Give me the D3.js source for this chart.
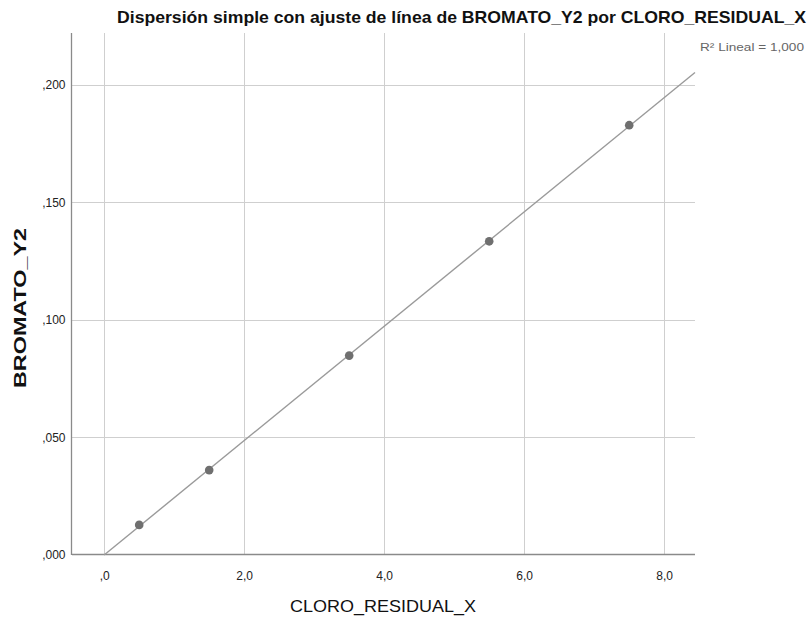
<!DOCTYPE html>
<html><head><meta charset="utf-8">
<script src="https://cdn.jsdelivr.net/npm/d3@7"></script>
<style>body{margin:0;background:#fff}svg{display:block}</style>
</head><body>
<svg id="c" width="808" height="621"></svg>
<script>
const xValues = [0.5, 1.5, 3.5, 5.5, 7.5];
const yValues = [0.0128, 0.0361, 0.0848, 0.1334, 0.1828];
const xTicks = [0, 2, 4, 6, 8];
const yTicks = [0, 0.05, 0.10, 0.15, 0.20];
const titleText = "Dispersión simple con ajuste de línea de BROMATO_Y2 por CLORO_RESIDUAL_X";
const xLabel = "CLORO_RESIDUAL_X";
const yLabel = "BROMATO_Y2";
const r2Text = "R² Lineal = 1,000";

const svg = d3.select("#c");
const L = 72, R = 695, T = 33, B = 555;
const x = d3.scaleLinear().domain([-0.46, 8.44]).range([L, R]);
const y = d3.scaleLinear().domain([0, 0.222]).range([B, T]);
const font = "'Liberation Sans', Arial, sans-serif";
const narrow = "'Liberation Sans Narrow', 'Arial Narrow', 'Liberation Sans', Arial, sans-serif";
const loc = d3.formatLocale({decimal: ",", thousands: ".", grouping: [3], currency: ["", ""]});
const fx = v => { const s = loc.format(".1f")(v); return s.startsWith("0,") ? s.slice(1) : s; };
const fy = v => { const s = loc.format(".3f")(v); return s.startsWith("0,") ? s.slice(1) : s; };

// gridlines
svg.append("g").selectAll("line").data(xTicks).join("line")
  .attr("x1", d => Math.round(x(d)) + 0.5).attr("x2", d => Math.round(x(d)) + 0.5)
  .attr("y1", T).attr("y2", B).attr("stroke", "#cfcfcf").attr("stroke-width", 1);
svg.append("g").selectAll("line").data(yTicks.filter(d => d > 0)).join("line")
  .attr("y1", d => Math.round(y(d)) + 0.5).attr("y2", d => Math.round(y(d)) + 0.5)
  .attr("x1", L).attr("x2", R).attr("stroke", "#cfcfcf").attr("stroke-width", 1);

// axes
const xAxis = svg.append("g").attr("transform", `translate(0,${B - 0.5})`)
  .call(d3.axisBottom(x).tickValues(xTicks).tickFormat(fx).tickSize(0).tickPadding(17));
const yAxis = svg.append("g").attr("transform", `translate(${L - 0.5},0)`)
  .call(d3.axisLeft(y).tickValues(yTicks).tickFormat(fy).tickSize(0).tickPadding(6));
[xAxis, yAxis].forEach(g => {
  g.select(".domain").attr("stroke", "#8a8a8a").attr("stroke-width", 1.3);
  g.selectAll("text").attr("font-family", narrow).attr("font-size", 12).attr("fill", "#222");
});
xAxis.select(".domain").attr("d", `M${L},0H${R}`);
yAxis.select(".domain").attr("d", `M0,${T}V${B}`);

// regression line (least squares on data)
const mx = d3.mean(xValues), my = d3.mean(yValues);
const slope = d3.sum(xValues.map((v, i) => (v - mx) * (yValues[i] - my))) / d3.sum(xValues.map(v => (v - mx) ** 2));
const icpt = my - slope * mx;
const x0 = Math.max(x.domain()[0], -icpt / slope), x1 = x.domain()[1];
svg.append("line")
  .attr("x1", x(x0)).attr("y1", y(icpt + slope * x0))
  .attr("x2", x(x1)).attr("y2", y(icpt + slope * x1))
  .attr("stroke", "#9a9a9a").attr("stroke-width", 1.4);

// points
svg.append("g").selectAll("circle").data(xValues).join("circle")
  .attr("cx", d => x(d)).attr("cy", (d, i) => y(yValues[i])).attr("r", 4.3)
  .attr("fill", "#6f6f6f");

// title
svg.append("text").attr("x", 806).attr("y", 23).attr("text-anchor", "end")
  .attr("font-family", narrow).attr("font-size", 17).attr("font-weight", "bold").attr("fill", "#111")
  .attr("textLength", 689).attr("lengthAdjust", "spacingAndGlyphs").text(titleText);

// R2 label
svg.append("text").attr("x", 804).attr("y", 51).attr("text-anchor", "end")
  .attr("font-family", narrow).attr("font-size", 11).attr("fill", "#666")
  .attr("textLength", 104).attr("lengthAdjust", "spacingAndGlyphs").text(r2Text);

// axis titles
svg.append("text").attr("x", 383).attr("y", 612).attr("text-anchor", "middle")
  .attr("font-family", narrow).attr("font-size", 17).attr("fill", "#111")
  .attr("textLength", 186).attr("lengthAdjust", "spacingAndGlyphs").text(xLabel);
svg.append("text").attr("transform", "translate(26,308) rotate(-90)").attr("text-anchor", "middle")
  .attr("font-family", font).attr("font-size", 16).attr("font-weight", "bold").attr("fill", "#111")
  .attr("textLength", 160).attr("lengthAdjust", "spacingAndGlyphs").text(yLabel);
</script>
</body></html>
